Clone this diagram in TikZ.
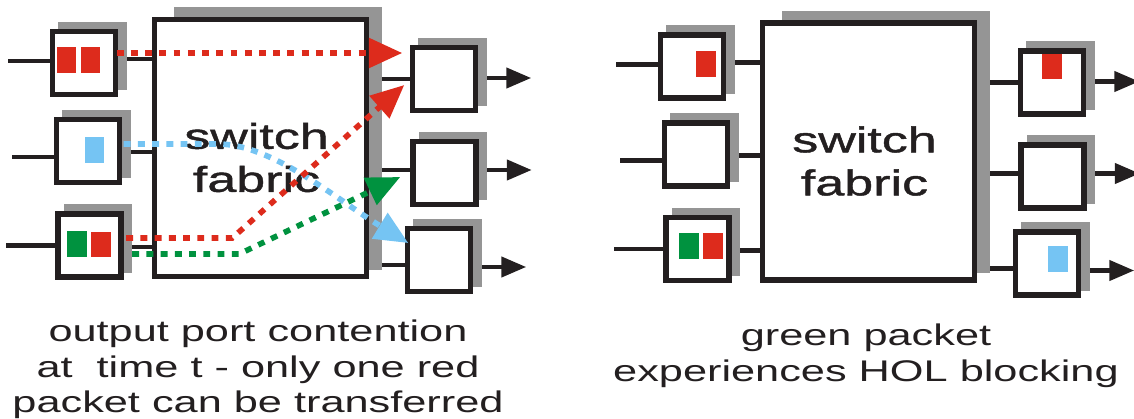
\documentclass[tikz,border=0pt]{standalone}
\usepackage{fontspec}
\newfontfamily\capfont[FakeStretch=1.45]{Liberation Sans}
\newfontfamily\fabfont[FakeStretch=1.45,FakeBold=1.2]{Liberation Sans}
\usetikzlibrary{arrows.meta,calc,backgrounds}
\definecolor{Ink}{HTML}{231F20}
\definecolor{Shade}{HTML}{959595}
\definecolor{PktRed}{HTML}{DD2B1C}
\definecolor{PktGreen}{HTML}{00923F}
\definecolor{PktBlue}{HTML}{75C4F3}
\tikzset{port/.style={draw=Ink,fill=white,line width=3.1pt,minimum size=1.26cm,
    inner sep=0pt},
  fabric/.style={port,minimum width=4.24cm,minimum height=5.14cm},
  fabtext/.style={align=center,inner sep=0pt,text=Ink,
    font=\fabfont\fontsize{20.4}{24.5}\selectfont},
  caption/.style={align=center,inner sep=0pt,text=Ink,anchor=north,
    font=\capfont\fontsize{17}{20.2}\selectfont},
  pkt/.style={minimum width=0.4cm,minimum height=0.52cm,inner sep=0pt},
  wire/.style={draw=Ink,line width=2.5pt},
  outedge/.style={wire,-{Triangle[length=14.2pt,width=11.4pt]}},
  flowedge/.style={line width=3.2pt,dash pattern=on 3.9pt off 4.2pt,
    -{Triangle[length=19pt,width=16.5pt]}}}

\begin{document}
\begin{tikzpicture}[x=0.02cm,y=-0.02cm]
  \useasboundingbox (0,0) rectangle (1134,419);
  % both switches: ports, fabric, wires and shadows
  \foreach \p/\dx/\dy in {l/0/0,r/608/3.5}{
    \begin{scope}[shift={(\dx,\dy)}]
      \node[fabric] (\p-fab) at (260.5,148) {};
      \node[port] (\p-in1) at (84,63) {};
      \node[port] (\p-in2) at (88,151) {};
      \node[port] (\p-in3) at (89.5,245.5) {};
      \node[port] (\p-out1) at (444,79) {};
      \node[port] (\p-out2) at (444.5,173) {};
      \node[port] (\p-out3) at (439,260) {};
      \node[fabtext] (\p-name) at ($(\p-fab.center)+(-4,9.5)$) {switch\\fabric};
      \begin{scope}[on background layer]
        \foreach \n/\a/\b/\len in {in1/-2/-4/42,in2/6/1/42,in3/0/1.5/49}{
          \draw[wire] ($(\p-\n.west)+(0,\a)$) -- ++(-\len,0);
          \draw[wire] ($(\p-\n.east)+(0,\b)$) -- ($(\p-\n.east -| \p-fab.west)+(0,\b)$);
        }
        \foreach \n/\a/\c in {out1/0/-1,out2/-3/-3,out3/5/7}{
          \draw[wire] ($(\p-\n.west)+(0,\a)$) -- ($(\p-\n.west -| \p-fab.east)+(0,\a)$);
          \draw[outedge] ($(\p-\n.east)+(0,\c)$) -- ++(53,0);
        }
        \foreach \n in {in1,in2,in3,out1,out2,out3}
          \fill[Shade] ($(\p-\n.north west)+(8.5,-7)$) rectangle ($(\p-\n.south east)+(8.5,-7)$);
        \fill[Shade] ($(\p-fab.north west)+(22.5,-9.5)$) rectangle ($(\p-fab.south east)+(12.5,-9.5)$);
      \end{scope}
    \end{scope}
  }
  % left: output port contention
  \node[pkt,fill=PktRed] (l-p1) at ($(l-in1)+(-17.5,-3)$) {};
  \node[pkt,fill=PktRed] (l-p2) at ($(l-in1)+(6.5,-3)$) {};
  \node[pkt,fill=PktBlue] (l-p3) at ($(l-in2)+(6.5,-1)$) {};
  \node[pkt,fill=PktGreen] (l-p4) at ($(l-in3)+(-12.5,-1.5)$) {};
  \node[pkt,fill=PktRed] (l-p5) at ($(l-in3)+(11.5,-1)$) {};
  \draw[flowedge,PktRed] ($(l-in1.east)+(-1.5,-10)$) -- ($(l-out1.west)+(-7.5,-26)$);
  \draw[flowedge,PktBlue] ($(l-in2.east)+(1.5,-7)$) -- ++(94,0)
    .. controls ($(l-in2.east)+(150.5,-7)$) and ($(l-out3.west)+(-67.5,-60)$)
    .. ($(l-out3.west)+(3.5,-17)$);
  \draw[flowedge,PktRed] ($(l-in3.east)+(2.5,-7.5)$) -- ++(106,0) -- ($(l-out1.west)+(-5.5,6)$);
  \draw[flowedge,PktGreen] ($(l-in3.east)+(8.5,8.5)$) -- ++(107,0) -- ($(l-out2.west)+(-10,4)$);
  \node[caption] (l-cap) at (258,319.6) {output port contention\\at\ \ time t - only one red\\packet can be transferred};
  % right: HOL blocking
  \node[pkt,fill=PktRed] (r-p1) at ($(r-in1)+(14,-2.5)$) {};
  \node[pkt,fill=PktGreen] (r-p2) at ($(r-in3)+(-9,-3)$) {};
  \node[pkt,fill=PktRed] (r-p3) at ($(r-in3)+(15,-3)$) {};
  \node[pkt,fill=PktRed] (r-p4) at ($(r-out1)+(-0.5,-16)$) {};
  \node[pkt,fill=PktBlue] (r-p5) at ($(r-out3)+(11,-4.5)$) {};
  \node[caption] (r-cap) at (866,323.6) {green packet\\experiences HOL blocking};
\end{tikzpicture}
\end{document}
